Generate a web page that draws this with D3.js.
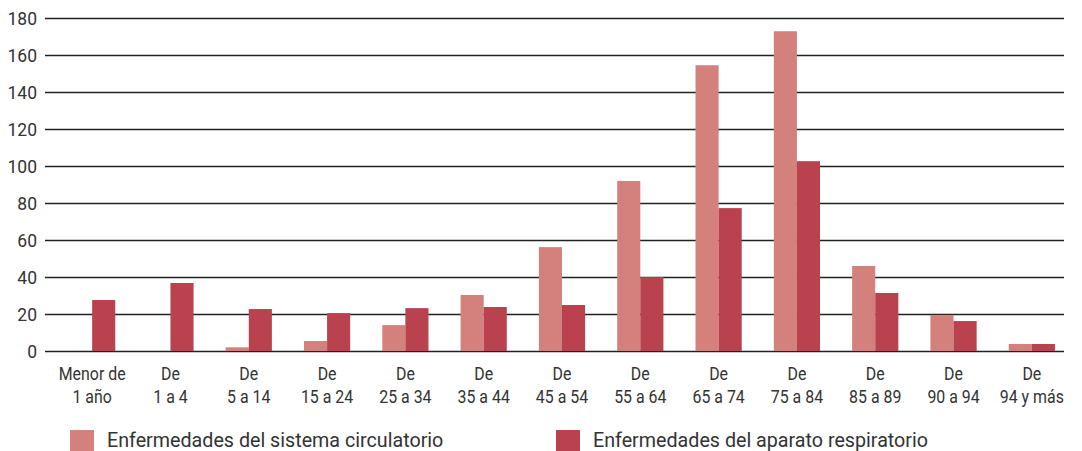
<!DOCTYPE html>
<html>
  <head>
    <meta charset="utf-8">
    <script src="https://d3js.org/d3.v7.min.js"></script>
    <style>
      html, body {
        margin: 0;
        padding: 0;
        overflow: hidden;
        background: #fff;
      }
      .y-label {
        font-family: "Roboto", "Liberation Sans", sans-serif;
        font-size: 17.5px;
        fill: #333;
      }
      .x-label {
        font-family: "Roboto", "Liberation Sans", sans-serif;
        font-size: 18.5px;
        fill: #333;
      }
      .legend text {
        font-family: "Roboto", "Liberation Sans", sans-serif;
        font-size: 19.7px;
        fill: #333;
      }
    </style>
  </head>
  <body>
    <div id="chart"></div>
    <script>
      // age groups, two lines per label
      const categories = [
        ["Menor de", "1 año"], ["De", "1 a 4"], ["De", "5 a 14"], ["De", "15 a 24"],
        ["De", "25 a 34"], ["De", "35 a 44"], ["De", "45 a 54"], ["De", "55 a 64"],
        ["De", "65 a 74"], ["De", "75 a 84"], ["De", "85 a 89"], ["De", "90 a 94"],
        ["De", "94 y más"]
      ];
      const circulatorio = [0, 0, 2, 5.4, 14, 30.3, 56.2, 92, 154.6, 173, 46, 19.5, 3.8];
      const respiratorio = [27.6, 36.8, 22.7, 20.5, 23.2, 23.8, 24.9, 40, 77.3, 102.7, 31.4, 16.2, 3.8];
      const seriesNames = ["Enfermedades del sistema circulatorio", "Enfermedades del aparato respiratorio"];
      const colors = ["#d4807c", "#b9424e"];
      const yTicks = [0, 20, 40, 60, 80, 100, 120, 140, 160, 180];

      const width = 1082, height = 451;
      const gridLeft = 45, gridRight = 1064;

      const svg = d3.select("#chart").append("svg")
        .attr("width", width)
        .attr("height", height);

      const y = d3.scaleLinear().domain([0, 180]).range([351, 18.3]);
      const x = d3.scaleBand()
        .domain(d3.range(categories.length))
        .range([53, 1071])
        .paddingInner(0.41)
        .paddingOuter(0.205);
      const xs = d3.scaleBand().domain([0, 1]).range([0, x.bandwidth()]);

      // gridlines
      svg.append("g").selectAll("line")
        .data(yTicks)
        .join("line")
        .attr("x1", gridLeft).attr("x2", gridRight)
        .attr("y1", d => Math.round(y(d)) + 0.5)
        .attr("y2", d => Math.round(y(d)) + 0.5)
        .attr("stroke", "#222")
        .attr("stroke-width", 1.3);

      // y labels
      svg.append("g").selectAll("text")
        .data(yTicks)
        .join("text")
        .attr("class", "y-label")
        .attr("x", 37)
        .attr("y", d => y(d) + 6.5)
        .attr("text-anchor", "end")
        .text(d => d);

      // bars
      const data = categories.map((c, i) => [circulatorio[i], respiratorio[i]]);
      const groups = svg.append("g").selectAll("g")
        .data(data)
        .join("g")
        .attr("transform", (d, i) => `translate(${x(i)},0)`);
      groups.selectAll("rect")
        .data(d => d)
        .join("rect")
        .attr("x", (d, j) => xs(j))
        .attr("width", xs.bandwidth())
        .attr("y", d => y(d))
        .attr("height", d => y(0) - y(d))
        .attr("fill", (d, j) => colors[j]);

      // x labels (no condensed font installed, so squeeze horizontally)
      const cx = i => x(i) + x.bandwidth() / 2;
      const xl = svg.append("g").selectAll("text")
        .data(categories)
        .join("text")
        .attr("class", "x-label")
        .attr("text-anchor", "middle")
        .attr("transform", (d, i) => `translate(${cx(i)},0) scale(0.86,1)`);
      xl.append("tspan").attr("y", 380).attr("x", 0).text(d => d[0]);
      xl.append("tspan").attr("y", 403).attr("x", 0).text(d => d[1]);

      // legend
      const legendX = [70, 556];
      const legend = svg.append("g").attr("class", "legend").selectAll("g")
        .data(seriesNames)
        .join("g")
        .attr("transform", (d, i) => `translate(${legendX[i]},430)`);
      legend.append("rect").attr("width", 24).attr("height", 22).attr("fill", (d, i) => colors[i]);
      legend.append("text").attr("x", 37).attr("y", 17).text(d => d);
    </script>
  </body>
</html>
